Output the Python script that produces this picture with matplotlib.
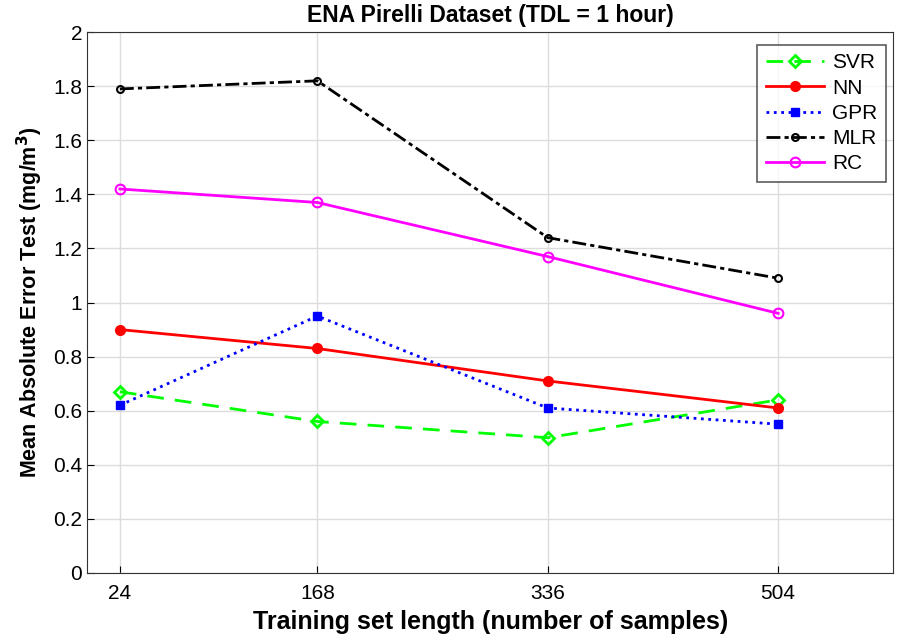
import matplotlib
matplotlib.use('Agg')
import matplotlib.pyplot as plt
from matplotlib.ticker import FuncFormatter

plt.rcParams['font.family'] = ['Liberation Sans', 'DejaVu Sans']

train_len = [24, 168, 336, 504]
svr = [0.67, 0.56, 0.50, 0.64]
nn = [0.90, 0.83, 0.71, 0.61]
gpr = [0.62, 0.95, 0.61, 0.55]
mlr = [1.79, 1.82, 1.24, 1.09]
rc = [1.42, 1.37, 1.17, 0.96]

fig = plt.figure(figsize=(9.04, 6.43), dpi=100)
ax = fig.add_axes([0.0962, 0.109, 0.892, 0.841])

ax.plot(train_len, svr, color='#00ff00', ls=(0, (6, 4)), lw=2, marker='D', ms=6,
        mfc='none', mew=2, label='SVR')
ax.plot(train_len, nn, color='red', ls='-', lw=2, marker='o', ms=7, label='NN')
ax.plot(train_len, gpr, color='blue', ls=':', lw=2, marker='s', ms=6, label='GPR')
ax.plot(train_len, mlr, color='black', ls=(0, (5, 1.5, 1.5, 1.5)), lw=2, marker='o', ms=5,
        mfc='none', mew=1.5, label='MLR')
ax.plot(train_len, rc, color='magenta', ls='-', lw=2, marker='o', ms=7,
        mfc='none', mew=1.5, label='RC')

ax.set_xlim(0, 588)
ax.set_ylim(0, 2)
ax.set_xticks(train_len)
ax.set_yticks([i * 0.2 for i in range(11)])
ax.yaxis.set_major_formatter(FuncFormatter(lambda v, p: ('%.1f' % v).rstrip('0').rstrip('.') if v else '0'))
ax.tick_params(direction='in', labelsize=15, length=5)
ax.tick_params(axis='x', pad=8)
ax.grid(True, color='#dcdcdc', lw=1)
ax.set_axisbelow(True)
for s in ax.spines.values():
    s.set_color('#333333')

ax.set_title('ENA Pirelli Dataset (TDL = 1 hour)', fontsize=16.5, fontweight='bold', pad=7)
ax.set_xlabel('Training set length (number of samples)', fontsize=18, fontweight='bold', labelpad=5)
ax.set_ylabel('Mean Absolute Error Test (mg/m$^\\mathbf{3}$)', fontsize=15.5, fontweight='bold', labelpad=6)

leg = ax.legend(loc='upper right', bbox_to_anchor=(0.991, 0.976), borderaxespad=0,
                fontsize=15, fancybox=False, edgecolor='#333333',
                handlelength=2.8, handletextpad=0.4, labelspacing=0.3)
leg.get_frame().set_linewidth(1.2)

fig.savefig('out.png', dpi=100)
